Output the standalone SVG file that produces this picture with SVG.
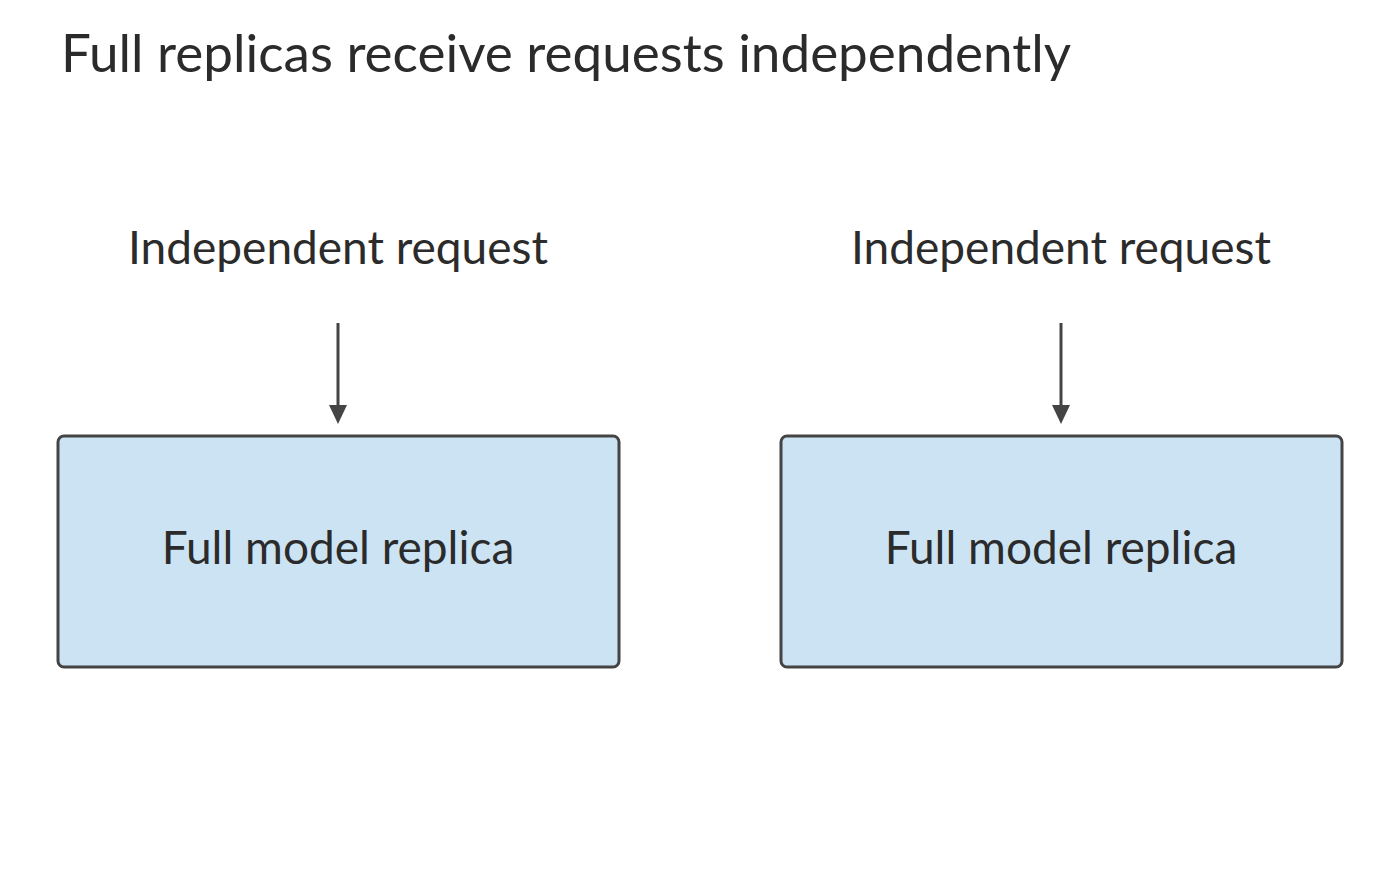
<svg xmlns="http://www.w3.org/2000/svg" width="1400" height="892" viewBox="0 0 1400 892">
<style>
text{font-family:Lato,"Open Sans",sans-serif;fill:#2b2b2b}
.t{font-size:53px}
.l{font-size:46px;text-anchor:middle}
.box{fill:#cce3f3;stroke:#444;stroke-width:3}
.c{stroke:#444;stroke-width:3;fill:none}
</style>
<rect width="1400" height="892" fill="#fff"/>
<text class="t" x="61" y="72">Full replicas receive requests independently</text>
<g id="req1"><text class="l" x="338" y="264">Independent request</text></g>
<g id="req2"><text class="l" x="1061" y="264">Independent request</text></g>
<g id="connectors">
<path class="c" d="M338,323V410"/><path d="M329,405L338,424L347,405z" fill="#444"/>
<path class="c" d="M1061,323V410"/><path d="M1052,405L1061,424L1070,405z" fill="#444"/>
</g>
<g id="rep1"><rect class="box" x="58" y="436" width="561" height="231" rx="6"/><text class="l" x="338" y="564">Full model replica</text></g>
<g id="rep2"><rect class="box" x="781" y="436" width="561" height="231" rx="6"/><text class="l" x="1061" y="564">Full model replica</text></g>
</svg>
